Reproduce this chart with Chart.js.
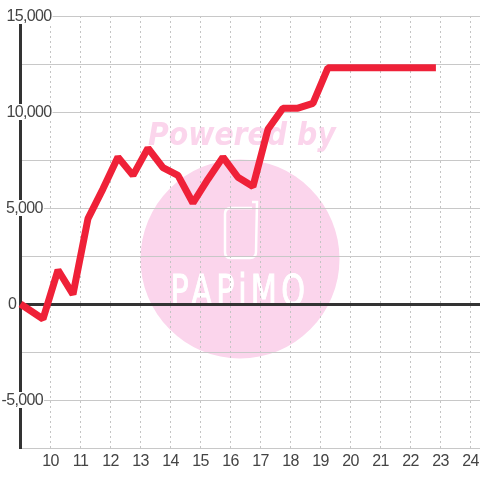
<!DOCTYPE html>
<html><head><meta charset="utf-8">
<style>html,body{margin:0;padding:0;background:#fff}canvas{display:block}</style>
<script src="https://cdn.jsdelivr.net/npm/chart.js@4"></script>
</head><body><canvas id="c" width="480" height="480" style="width:480px;height:480px"></canvas>
<script>
const hours=[9,9.75,10.25,10.75,11.25,11.75,12.25,12.75,13.25,13.75,14.25,14.75,15.25,15.75,16.25,16.75,17.25,17.75,18.25,18.75,19.25,22.85];
const values=[0,-780,1770,500,4450,6000,7650,6700,8120,7100,6700,5260,6500,7650,6600,6120,9100,10200,10200,10450,12300,12300];
const xTicks=[10,11,12,13,14,15,16,17,18,19,20,21,22,23,24];
const yTickLabels={15000:'15,000',10000:'10,000',5000:'5,000',0:'0','-5000':'-5,000'};
const yLabelLeft={15000:6.5,10000:6.5,5000:6,0:8,'-5000':1.5};
const FONT='16px "Liberation Sans"';
const watermark={id:'watermark',beforeDraw(ch){
  const x=ch.ctx;x.save();
  x.fillStyle='#fbd5ec';
  x.beginPath();x.arc(240,259,99.5,0,Math.PI*2);x.fill();
  x.save();x.translate(148,145);x.scale(0.885,1);
  x.font='italic bold 32px "DejaVu Sans"';x.textBaseline='alphabetic';x.textAlign='left';
  x.fillText('Powered by',0,0);
  x.restore();
  x.strokeStyle='#fff';x.lineWidth=2.5;
  x.beginPath();x.moveTo(252,202);x.lineTo(257,202);x.lineTo(256,252);x.quadraticCurveTo(256,258,250,258);x.lineTo(230,258);x.quadraticCurveTo(225,258,225,252);x.lineTo(225,214);x.quadraticCurveTo(225,208,231,208);x.lineTo(252,208);x.stroke();
  x.save();x.translate(240,305);x.scale(0.72,1);
  x.fillStyle='#fff';x.strokeStyle='#fff';x.lineWidth=1;x.font='42px "DejaVu Sans"';x.textAlign='center';x.textBaseline='alphabetic';
  x.letterSpacing='6px';
  x.fillText('PAPiMO',0,0);x.strokeText('PAPiMO',0,0);
  x.restore();
  x.restore();
  x.letterSpacing='-0.65px';
},beforeDatasetsDraw(ch){
  const c=ch.ctx,ys=ch.scales.y;c.save();c.font=FONT;c.textBaseline='middle';c.textAlign='left';
  for(const v of Object.keys(yTickLabels)){
    const t=yTickLabels[v],py=ys.getPixelForValue(+v),l=yLabelLeft[v],w=c.measureText(t).width;
    if(+v!==0){c.fillStyle='#fff';c.fillRect(l-1,py-8,w+2,16);}
    c.fillStyle='#444';c.fillText(t,l,py+1);
  }
  c.restore();
}};
new Chart(document.getElementById('c'),{
  type:'line',
  plugins:[watermark],
  data:{datasets:[{data:hours.map((h,i)=>({x:h,y:values[i]})),borderColor:'#ef2138',borderWidth:7,pointRadius:0,tension:0,clip:false,borderJoinStyle:'bevel',borderCapStyle:'butt'}]},
  options:{responsive:false,animation:false,devicePixelRatio:1,
    layout:{autoPadding:false,padding:{top:16,left:0,right:0,bottom:0}},
    plugins:{legend:{display:false},tooltip:{enabled:false},title:{display:false}},
    scales:{
      x:{type:'linear',min:9,max:24.32,afterFit(s){s.height=32;s.paddingLeft=0;s.paddingRight=0;s.getPadding=()=>({left:0,top:0,right:0,bottom:0})},afterBuildTicks(s){s.ticks=xTicks.map(v=>({value:v}))},
        ticks:{autoSkip:false,maxRotation:0,padding:4,color:'#444',font:{family:'"Liberation Sans"',size:16},callback:v=>String(v)},
        grid:{color:'#c4c4c4',lineWidth:1,drawTicks:false,tickLength:0},border:{display:false,dash:[2,3]}},
      y:{min:-7500,max:15000,afterFit(s){s.width=20.5},
        ticks:{stepSize:2500,display:false},
        grid:{drawTicks:false,color:c=>c.tick&&c.tick.value===0?'#333':'#c8c8c8',lineWidth:c=>c.tick&&c.tick.value===0?3:1},
        border:{display:true,color:'#333',width:3}}
    }
  }
});
</script></body></html>
